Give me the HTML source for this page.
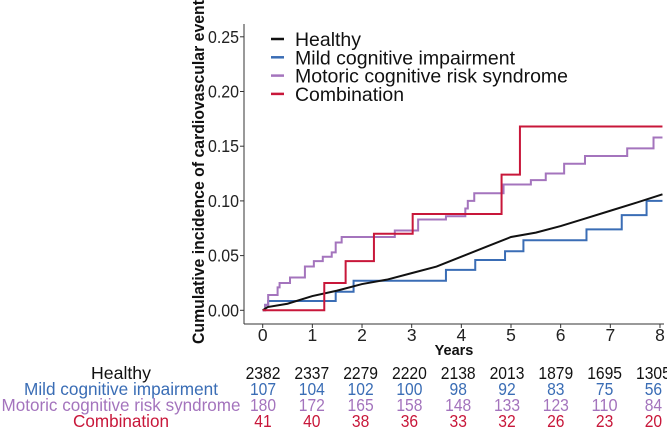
<!DOCTYPE html>
<html><head><meta charset="utf-8"><style>
body{margin:0;background:#fff;}
svg{display:block;font-family:"Liberation Sans",Arial,sans-serif;}
</style></head><body>
<svg id="chart" width="667" height="433" viewBox="0 0 667 433" xmlns="http://www.w3.org/2000/svg"></svg>
<script>
const xTicks=[0,1,2,3,4,5,6,7,8];
const yTicks=[0,0.05,0.10,0.15,0.20,0.25];
const yTickLabels=["0.00","0.05","0.10","0.15","0.20","0.25"];
const seriesNames=["Healthy","Mild cognitive impairment","Motoric cognitive risk syndrome","Combination"];
const seriesColors=["#111111","#3a6db5","#a474bd","#c8173a"];
const healthyT=[0,0.1,0.5,1,1.5,2,2.5,3,3.5,4,4.5,5,5.5,6,6.5,7,7.5,8.05];
const healthyV=[0,0.003,0.006,0.013,0.018,0.024,0.028,0.034,0.040,0.049,0.058,0.067,0.071,0.077,0.084,0.091,0.098,0.106];
const mciT=[0,0.05,0.11,1.47,1.83,3.69,4.28,4.88,5.25,6.52,7.23,7.73];
const mciV=[0,0.005,0.0085,0.017,0.027,0.037,0.046,0.054,0.064,0.074,0.087,0.100];
const mcrT=[0,0.05,0.11,0.3,0.34,0.55,0.85,1.03,1.21,1.39,1.47,1.59,2.66,3.13,3.69,4.08,4.13,4.26,4.85,5.40,5.70,6.07,6.49,7.34,7.87];
const mcrV=[0,0.005,0.014,0.021,0.025,0.030,0.040,0.045,0.049,0.053,0.062,0.067,0.073,0.083,0.086,0.093,0.100,0.107,0.115,0.119,0.125,0.134,0.141,0.148,0.158];
const comboT=[0,1.24,1.67,2.24,3.02,4.81,5.18];
const comboV=[0,0.025,0.045,0.070,0.088,0.124,0.168];
const riskHealthy=[2382,2337,2279,2220,2138,2013,1879,1695,1305];
const riskMci=[107,104,102,100,98,92,83,75,56];
const riskMcr=[180,172,165,158,148,133,123,110,84];
const riskCombo=[41,40,38,36,33,32,26,23,20];
const xEnd=8.05;

const NS="http://www.w3.org/2000/svg";
const svg=document.getElementById('chart');
const X=t=>262.7+t*49.66;
const Y=v=>310.3-v*1094;
const colX=t=>263+t*48.8;
function mk(tag,attrs,parent){const e=document.createElementNS(NS,tag);for(const k in attrs)e.setAttribute(k,attrs[k]);(parent||svg).appendChild(e);return e;}
function txt(s,attrs){const e=mk('text',attrs);e.textContent=s;return e;}

const ya=mk('line',{x1:244,y1:24,x2:244,y2:324,stroke:'#333','stroke-width':1});


const xa=mk('line',{x1:244,y1:324,x2:664,y2:324,stroke:'#333','stroke-width':1});


yTicks.forEach((v,i)=>{
  const tk=mk('line',{x1:240,y1:Y(v),x2:244,y2:Y(v),stroke:'#333'});
  
  
  const t=txt(yTickLabels[i],{x:239,y:Y(v)+6,'text-anchor':'end','font-size':17.5,textLength:31,lengthAdjust:'spacingAndGlyphs',fill:'#222'});
  
  
});
xTicks.forEach(v=>{
  const tk=mk('line',{x1:X(v),y1:324,x2:X(v),y2:328,stroke:'#333'});
  
  
  const t=txt(String(v),{x:X(v),y:341,'text-anchor':'middle','font-size':17.5,fill:'#222'});
  
  
});
const yt=txt('Cumulative incidence of cardiovascular event',{x:0,y:0,transform:'translate(204,172) rotate(-90)','text-anchor':'middle','font-size':17,'font-weight':'bold',textLength:344,lengthAdjust:'spacingAndGlyphs',fill:'#111'});


const xt=txt('Years',{x:454,y:355,'text-anchor':'middle','font-size':14.5,'font-weight':'bold',fill:'#111'});



function stepPath(T,V){let d='M'+X(T[0])+','+Y(V[0]);for(let i=1;i<T.length;i++){d+=' H'+X(T[i])+' V'+Y(V[i]);}d+=' H'+X(xEnd);return d;}
function linePath(T,V){return 'M'+T.map((t,i)=>X(t)+','+Y(V[i])).join(' L');}
const paths=[[mciT,mciV,1,'mci-curve',true],[mcrT,mcrV,2,'mcr-curve',true],[healthyT,healthyV,0,'healthy-curve',false],[comboT,comboV,3,'combination-curve',true]];
paths.forEach(p=>{
  const e=mk('path',{d:p[4]?stepPath(p[0],p[1]):linePath(p[0],p[1]),fill:'none',stroke:seriesColors[p[2]],'stroke-width':2});
  
  
});

const legendW=[66,220,273,109];
seriesNames.forEach((n,i)=>{
  const cy=39+i*18.3;
  const l=mk('line',{x1:271,y1:cy,x2:284,y2:cy,stroke:seriesColors[i],'stroke-width':2.5});
  
  
  const t=txt(n,{x:295,y:cy+7,'font-size':19.5,textLength:legendW[i],lengthAdjust:'spacingAndGlyphs',fill:'#111'});
  
  
});

const rows=[riskHealthy,riskMci,riskMcr,riskCombo];
const rowColors=["#111111","#3a6db5","#a474bd","#c8173a"];
const labelW=[60,194,239,96];
rows.forEach((r,i)=>{
  const cy=379+i*16;
  const lab=txt(seriesNames[i],{x:121,y:cy,'text-anchor':'middle','font-size':17.5,textLength:labelW[i],lengthAdjust:'spacingAndGlyphs',fill:rowColors[i]});
  
  
  r.forEach((v,j)=>{
    const s=String(v);
    const t=txt(s,{x:colX(xTicks[j]),y:cy,'text-anchor':'middle','font-size':17.5,textLength:s.length*8.7,lengthAdjust:'spacingAndGlyphs',fill:rowColors[i]});
    
    
  });
});
</script>
</body></html>
